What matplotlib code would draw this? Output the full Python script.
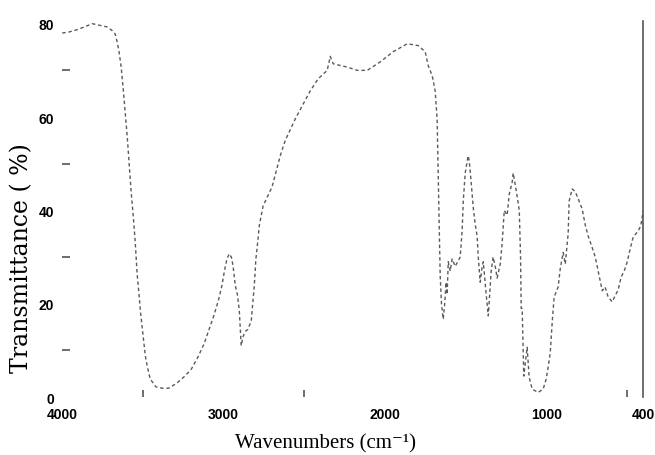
import matplotlib.pyplot as plt
from matplotlib.ticker import FixedLocator

# IR spectrum
wavenumber = [4000, 3960, 3900, 3850, 3814, 3760, 3721, 3690, 3672, 3659, 3647,
              3634, 3622, 3610, 3597, 3585, 3573, 3560, 3548, 3536, 3524, 3515,
              3505, 3495, 3485, 3472, 3455, 3420, 3380, 3340, 3290, 3240, 3200,
              3160, 3120, 3090, 3060, 3030, 3010, 2995, 2980, 2965, 2952, 2941,
              2928, 2915, 2903, 2891, 2880, 2868, 2850, 2829, 2810, 2800, 2790,
              2778, 2766, 2755, 2700, 2649, 2618, 2556, 2513, 2463, 2414, 2358,
              2339, 2321, 2234, 2172, 2110, 2030, 1949, 1862, 1794, 1751, 1732,
              1707, 1689, 1677, 1670, 1662, 1658, 1650, 1639, 1630, 1621, 1615,
              1608, 1596, 1584, 1565, 1534, 1522, 1515, 1503, 1485, 1478, 1466,
              1453, 1441, 1429, 1422, 1410, 1398, 1391, 1373, 1360, 1342, 1330,
              1317, 1305, 1286, 1274, 1261, 1243, 1230, 1212, 1206, 1193, 1181,
              1168, 1160, 1156, 1150, 1144, 1140, 1119, 1107, 1088, 1051, 1020,
              1001, 989, 976, 964, 952, 927, 914, 896, 883, 865, 859, 840, 821,
              803, 778, 760, 741, 716, 697, 679, 654, 636, 617, 592, 574, 555,
              537, 518, 499, 481, 462, 431, 415, 406, 400]
transmittance = [78, 78.2, 78.8, 79.5, 80, 79.6, 79.3, 78.5, 77.8, 76, 73.8,
                 70.5, 66, 61, 55.7, 50, 44, 38.8, 33.4, 26.4, 22, 18.2,
                 15, 11.8, 8.8, 6.4, 3.9, 2.2, 1.9, 1.9, 3, 4.5, 6,
                 8.5, 11.5, 14.5, 17.5, 21, 24, 27, 29.5, 30.7, 30, 28,
                 24, 22, 18.7, 11, 12.9, 14, 14.5, 16.3, 23.8, 29.6, 32.8,
                 37, 39, 41, 45, 51.7, 55, 59.6, 62.4, 65.6, 68.2, 70,
                 73, 71.4, 70.7, 70, 70, 71.8, 74, 75.7, 75.3, 74, 71,
                 68.8, 65.6, 59.6, 47.4, 34, 26, 20, 16.7, 20, 24.6, 22,
                 29, 27, 29.6, 28, 30, 35.6, 42, 48, 51.7, 50.6, 46,
                 40.5, 37, 34.5, 30, 24.6, 28, 29, 22, 17.4, 27, 30,
                 28, 25.5, 28.5, 33, 40, 39, 43.5, 46, 48, 45.5, 43,
                 40, 30, 19, 19, 10.3, 4.5, 10.7, 4.3, 1.7, 1, 1.7,
                 3.9, 6.4, 9.5, 16, 21.4, 23.6, 27.5, 31, 28.5, 35, 42, 44.6, 44,
                 42.5, 40.3, 37, 34.5, 32, 30, 27, 22.8, 23.6, 21.4, 20.4, 21.7, 23,
                 25.7, 27, 29, 31.7, 34.3, 35.6, 36.7, 38.6, 40]

x_ticks = [4000, 3000, 2000, 1000, 400]
x_minor = [3500, 2500, 500]
y_ticks = [0, 20, 40, 60, 80]
y_minor = [10, 30, 50, 70]

fig = plt.figure(figsize=(6.55, 4.56), dpi=100)
ax = fig.add_axes([0.095, 0.127, 0.887, 0.825])

ax.plot(wavenumber, transmittance, color="#5a5a5a", lw=1.0,
        linestyle=(0, (2.5, 2)))

ax.set_xlim(4000, 400)
ax.set_ylim(0, 80.6)

for side in ["top", "left", "bottom"]:
    ax.spines[side].set_visible(False)
ax.spines["right"].set_color("#555555")
ax.spines["right"].set_linewidth(1.2)

ax.set_xticks(x_ticks)
ax.set_yticks(y_ticks)
ax.xaxis.set_minor_locator(FixedLocator(x_minor))
ax.yaxis.set_minor_locator(FixedLocator(y_minor))
ax.tick_params(which="major", length=0)
ax.tick_params(axis="x", which="major", pad=7)
ax.tick_params(axis="y", which="major", pad=6)
ax.tick_params(which="minor", direction="in", length=5, width=1.2,
               color="#555555")
ax.tick_params(axis="y", which="minor", length=6)
ax.tick_params(right=False, which="both")

for lab in ax.get_xticklabels() + ax.get_yticklabels():
    lab.set_family("Liberation Sans")
    lab.set_fontsize(10)
    lab.set_fontweight("bold")

ax.set_xlabel("Wavenumbers (cm\u207b\u00b9)", fontsize=15,
              family=["Liberation Serif", "DejaVu Serif"])
ax.set_ylabel("Transmittance ( %)", fontsize=17,
              family=["DejaVu Serif"])
ax.xaxis.set_label_coords(0.453, -0.095)
ax.yaxis.set_label_coords(-0.05, 0.372)

fig.savefig("out.png", dpi=100)
